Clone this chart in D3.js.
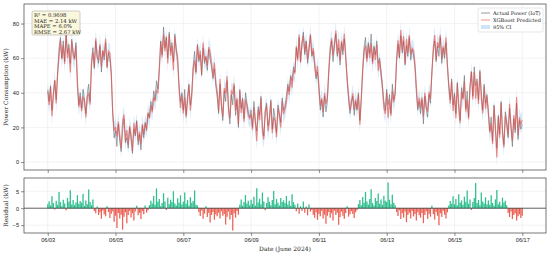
<!DOCTYPE html>
<html>
<head>
<meta charset="utf-8">
<script src="https://cdn.jsdelivr.net/npm/d3@7"></script>
<style>
  body { margin: 0; background: #fff; }
  svg { display: block; font-family: "DejaVu Serif", serif; }
  .tick text { font-size: 5.6px; fill: #222; }
</style>
</head>
<body>
<div id="chart"></div>
<script>
// hourly actual power (kW), 06/03 00:00 .. 06/17 00:00, one row per day
const actual = [
  42,35,44,30,40,47,36,52,66,72,60,70,58,74,63,68,57,71,64,60,69,48,33,40,
  31,42,36,28,39,45,35,58,66,54,70,61,57,67,52,64,59,69,55,63,60,50,28,14,
  18,9,22,12,6,17,25,11,14,8,20,13,5,19,15,24,10,16,7,21,14,23,18,28,
  26,35,30,41,36,47,42,55,70,62,78,66,72,60,75,64,69,58,74,65,61,44,35,40,
  30,42,27,38,45,33,40,56,64,52,68,58,62,50,66,57,61,53,65,59,55,48,54,44,
  38,28,45,32,24,41,35,47,30,22,39,33,44,27,36,20,42,31,37,25,40,34,29,26,
  30,20,35,24,18,32,27,38,22,15,29,34,21,26,36,19,31,25,17,33,28,23,37,30,
  32,38,45,41,50,47,55,52,66,60,72,58,68,75,62,70,57,66,73,61,64,55,48,52,
  42,30,36,26,38,29,35,52,63,70,58,67,74,61,66,56,69,62,71,60,48,36,28,34,
  38,27,35,30,40,24,37,55,66,72,60,69,63,74,58,67,62,70,57,60,53,44,35,30,
  42,33,39,28,45,36,40,58,68,60,73,63,70,56,67,61,72,59,65,62,55,40,30,35,
  28,36,22,38,31,26,39,34,52,64,70,58,67,61,72,57,66,60,69,55,44,36,48,33,
  40,28,46,35,24,43,37,50,31,41,26,45,52,38,55,44,48,36,53,41,30,45,34,39,
  30,18,26,12,33,21,8,27,16,35,19,10,29,23,14,31,20,9,25,17,34,13,24,19,
  22
];
// hourly residual (actual - predicted, kW)
const residual = [
  1.2,2.0,0.8,3.5,1.5,-0.4,2.2,1.0,4.8,1.8,0.6,2.5,1.4,-0.6,3.0,1.9,5.3,1.1,2.4,0.9,1.7,3.8,1.3,2.1,
  1.6,4.2,0.7,2.3,1.2,5.5,1.8,0.9,2.6,-0.8,-1.5,0.5,-2.0,-1.2,-3.1,-0.7,-1.8,-2.4,0.6,-1.1,-2.9,-1.6,-0.9,-4.0,
  -2.2,-5.8,-1.4,-3.0,-1.9,-6.3,-2.5,-1.2,-4.4,-2.0,-0.8,-2.7,-1.5,-3.6,-1.0,0.7,-2.1,-1.4,-3.2,-0.9,-1.8,0.8,-1.3,-0.6,
  0.9,2.2,1.4,3.6,1.0,5.8,1.9,2.7,0.6,1.5,4.4,2.0,-0.5,3.1,1.2,2.5,1.8,5.0,1.4,0.8,2.9,1.6,3.8,1.1,
  1.9,4.6,1.3,2.4,0.7,3.2,1.6,2.1,5.2,1.0,0.8,-1.2,-2.3,-0.7,-3.1,-1.6,0.6,-2.6,-1.4,-4.2,-2.0,-1.1,-3.4,-1.8,
  -2.4,-1.3,-3.0,-0.9,-2.2,-1.7,-4.8,-2.5,-1.0,-3.3,-2.0,-6.6,-1.5,-2.8,-0.8,-1.9,1.0,2.6,0.7,1.8,3.9,1.4,2.2,0.9,
  2.5,1.3,3.4,0.8,5.9,1.7,2.8,1.1,4.6,2.0,-0.6,1.5,3.2,1.9,0.9,2.4,5.1,1.2,2.7,1.6,0.8,3.0,1.8,2.3,
  1.5,3.6,1.1,2.2,0.7,4.1,1.8,1.0,-0.9,1.4,-1.6,0.6,-0.8,2.0,-1.3,0.5,-2.1,1.1,-1.0,-0.5,-1.9,-2.8,-1.2,-3.4,
  -1.6,-2.4,-0.8,-3.0,-1.9,-4.6,-2.2,-1.1,-2.8,-1.5,-3.6,-0.7,-2.0,-1.3,-4.9,-2.6,-1.0,-2.2,-3.1,-1.4,0.6,-2.5,-1.8,-0.9,
  -1.7,-2.9,-1.2,-0.6,1.2,2.4,0.9,3.3,1.6,4.8,2.0,1.1,2.7,5.6,1.5,0.8,3.0,2.1,4.3,1.3,2.6,1.0,3.7,2.2,
  1.8,7.6,2.5,1.2,4.0,1.6,0.9,-1.1,-2.3,-0.6,-3.2,-1.5,-2.7,-1.0,-4.1,-2.0,-1.3,-3.0,-0.8,-2.4,-1.7,-3.6,-1.2,-2.1,
  -2.8,-1.4,-4.4,-2.0,-0.9,-3.1,-1.6,-2.5,0.7,-1.8,-3.3,-1.1,-2.2,-5.0,-1.5,-2.6,-0.8,-1.9,-3.0,-1.2,0.8,2.1,1.3,3.5,
  1.2,2.7,0.8,4.1,1.6,2.3,1.0,3.4,1.9,5.2,1.3,2.6,-0.5,1.8,3.0,7.4,1.5,2.4,0.9,4.6,2.0,1.4,3.2,1.1,
  2.3,1.0,3.8,1.5,0.7,2.6,5.4,1.2,1.9,0.8,3.1,1.6,2.2,0.9,-1.4,-2.6,-1.0,-3.2,-2.0,-1.5,-3.6,-2.4,-1.8,-2.9,
  -2.2
];
const startDate = new Date(2024, 5, 3, 0, 0);
const tickDates = ["06/03","06/05","06/07","06/09","06/11","06/13","06/15","06/17"];
const powerTicks = [0, 20, 40, 60, 80];
const residTicks = [-5, 0, 5];
const statLines = ["R\u00b2 = 0.9698", "MAE = 2.14 kW", "MAPE = 6.0%", "RMSE = 2.67 kW"];
const legendLabels = ["Actual Power (IoT)", "XGBoost Predicted", "95% CI"];
const rmse = 2.67;

const W = 550, H = 254;
const data = actual.map((a, i) => {
  const p = a - residual[i];
  return {
    t: d3.timeHour.offset(startDate, i),
    actual: a,
    pred: p,
    lo: p - 1.96 * rmse,
    hi: p + 1.96 * rmse,
    res: residual[i]
  };
});

const svg = d3.select("#chart").append("svg")
  .attr("width", W).attr("height", H)
  .attr("viewBox", `0 0 ${W} ${H}`);

const t0 = data[0].t, t1 = data[data.length - 1].t;
const pad = (t1 - t0) * 0.05;
const x = d3.scaleTime()
  .domain([new Date(+t0 - pad), new Date(+t1 + pad)])
  .range([24, 546]);
const tickVals = tickDates.map(s => new Date(2024, +s.slice(0, 2) - 1, +s.slice(3)));

const pTop = {y0: 4, y1: 170};
const pBot = {y0: 178, y1: 233};
const y = d3.scaleLinear().domain([-4.6, 91.3]).range([pTop.y1, pTop.y0]);
const yr = d3.scaleLinear().domain([-7.3, 8.9]).range([pBot.y1, pBot.y0]);

const defs = svg.append("defs");
defs.append("clipPath").attr("id", "clipTop")
  .append("rect").attr("x", 24).attr("y", pTop.y0).attr("width", 522).attr("height", pTop.y1 - pTop.y0);
defs.append("clipPath").attr("id", "clipBot")
  .append("rect").attr("x", 24).attr("y", pBot.y0).attr("width", 522).attr("height", pBot.y1 - pBot.y0);

function grid(yScale, yTicks, p) {
  const g = svg.append("g").attr("stroke", "#e6e6e6").attr("stroke-width", 0.5);
  yTicks.forEach(v => g.append("line").attr("x1", 24).attr("x2", 546)
    .attr("y1", yScale(v)).attr("y2", yScale(v)));
  tickVals.forEach(d => g.append("line").attr("x1", x(d)).attr("x2", x(d))
    .attr("y1", p.y0).attr("y2", p.y1));
}
grid(y, powerTicks, pTop);
grid(yr, residTicks, pBot);

// ---- top panel
const gTop = svg.append("g").attr("clip-path", "url(#clipTop)");
gTop.append("path").datum(data)
  .attr("fill", "#9ec9f0").attr("fill-opacity", 0.4)
  .attr("d", d3.area().x(d => x(d.t)).y0(d => y(d.lo)).y1(d => y(d.hi)));
gTop.append("path").datum(data)
  .attr("fill", "none").attr("stroke", "#3a3a3a").attr("stroke-opacity", 0.7).attr("stroke-width", 0.55)
  .attr("d", d3.line().x(d => x(d.t)).y(d => y(d.actual)));
gTop.append("path").datum(data)
  .attr("fill", "none").attr("stroke", "#ec3b2f").attr("stroke-opacity", 0.55).attr("stroke-width", 1.2)
  .attr("d", d3.line().x(d => x(d.t)).y(d => y(d.pred)));

// ---- residual panel
const gBot = svg.append("g").attr("clip-path", "url(#clipBot)");
gBot.append("path").datum(data)
  .attr("fill", "#22e6b8").attr("fill-opacity", 0.2)
  .attr("d", d3.area().curve(d3.curveStep).x(d => x(d.t)).y0(yr(0)).y1(d => yr(Math.max(0, d.res))));
gBot.append("path").datum(data)
  .attr("fill", "#ff5a5a").attr("fill-opacity", 0.14)
  .attr("d", d3.area().curve(d3.curveStep).x(d => x(d.t)).y0(yr(0)).y1(d => yr(Math.min(0, d.res))));
gBot.selectAll("line.res").data(data).join("line")
  .attr("class", "res")
  .attr("x1", d => x(d.t)).attr("x2", d => x(d.t))
  .attr("y1", yr(0)).attr("y2", d => yr(d.res))
  .attr("stroke", d => d.res >= 0 ? "#12b37a" : "#e8493a")
  .attr("stroke-width", 1.2).attr("stroke-opacity", 0.85);
svg.append("line").attr("x1", 24).attr("x2", 546).attr("y1", yr(0)).attr("y2", yr(0))
  .attr("stroke", "#222").attr("stroke-width", 0.7);

// ---- axes
function frame(p) {
  svg.append("rect").attr("x", 24).attr("y", p.y0).attr("width", 522).attr("height", p.y1 - p.y0)
    .attr("fill", "none").attr("stroke", "#555").attr("stroke-width", 0.8);
}
frame(pTop);
frame(pBot);

const styleAxis = g => {
  g.select(".domain").remove();
  g.selectAll(".tick line").attr("stroke", "#444").attr("stroke-width", 0.6);
};
svg.append("g").attr("transform", "translate(24,0)")
  .call(d3.axisLeft(y).tickValues(powerTicks).tickSize(3).tickPadding(2))
  .call(styleAxis);
svg.append("g").attr("transform", "translate(24,0)")
  .call(d3.axisLeft(yr).tickValues(residTicks).tickSize(3).tickPadding(2).tickFormat(d3.format("d")))
  .call(styleAxis)
  .selectAll(".tick text").text(d => d < 0 ? "\u2212" + Math.abs(d) : d);
svg.append("g").attr("transform", `translate(0,${pTop.y1})`)
  .call(d3.axisBottom(x).tickValues(tickVals).tickSize(3).tickFormat(""))
  .call(styleAxis);
svg.append("g").attr("transform", `translate(0,${pBot.y1})`)
  .call(d3.axisBottom(x).tickValues(tickVals).tickSize(3).tickPadding(2).tickFormat(d3.timeFormat("%m/%d")))
  .call(styleAxis);

svg.append("text").attr("transform", `translate(8,${(pTop.y0 + pTop.y1) / 2}) rotate(-90)`)
  .attr("text-anchor", "middle").attr("font-size", 6).attr("fill", "#222")
  .text("Power Consumption (kW)");
svg.append("text").attr("transform", `translate(8,${(pBot.y0 + pBot.y1) / 2}) rotate(-90)`)
  .attr("text-anchor", "middle").attr("font-size", 6).attr("fill", "#222")
  .text("Residual (kW)");
svg.append("text").attr("x", 285).attr("y", 251)
  .attr("text-anchor", "middle").attr("font-size", 6).attr("fill", "#222")
  .text("Date (June 2024)");

// ---- stats box
const sb = svg.append("g").attr("transform", "translate(32,11)");
sb.append("rect").attr("width", 48).attr("height", 24).attr("rx", 1.5)
  .attr("fill", "#fbf7dc").attr("stroke", "#999").attr("stroke-width", 0.5);
statLines.forEach((s, i) => sb.append("text").attr("x", 2).attr("y", 5.8 + i * 5.7)
  .attr("font-size", 5.3).attr("fill", "#222").text(s));

// ---- legend
const lg = svg.append("g").attr("transform", "translate(478,8)");
lg.append("rect").attr("width", 65).attr("height", 24).attr("rx", 1.5)
  .attr("fill", "#fff").attr("fill-opacity", 0.85).attr("stroke", "#ccc").attr("stroke-width", 0.5);
legendLabels.forEach((s, i) => {
  const yy = 5 + i * 7;
  if (i === 0) lg.append("line").attr("x1", 3).attr("x2", 12).attr("y1", yy).attr("y2", yy)
    .attr("stroke", "#3a3a3a").attr("stroke-opacity", 0.75).attr("stroke-width", 0.7);
  if (i === 1) lg.append("line").attr("x1", 3).attr("x2", 12).attr("y1", yy).attr("y2", yy)
    .attr("stroke", "#ec3b2f").attr("stroke-opacity", 0.55).attr("stroke-width", 1);
  if (i === 2) lg.append("rect").attr("x", 3).attr("y", yy - 2).attr("width", 9).attr("height", 4)
    .attr("fill", "#9ec9f0").attr("fill-opacity", 0.5);
  lg.append("text").attr("x", 15).attr("y", yy + 1.8).attr("font-size", 5).attr("fill", "#222").text(s);
});
</script>
</body>
</html>
